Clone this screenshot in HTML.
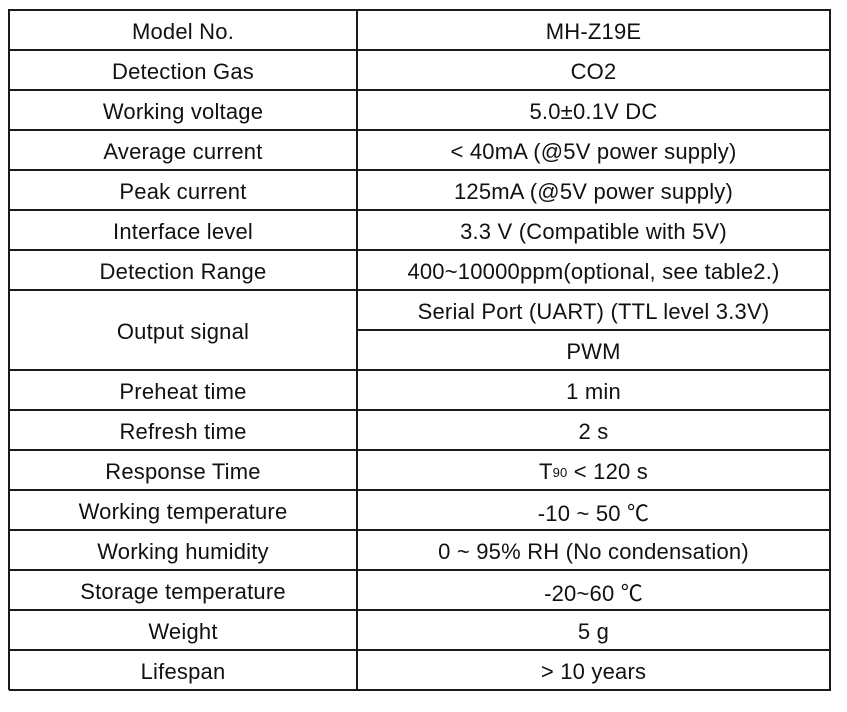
<!DOCTYPE html>
<html><head><meta charset="utf-8"><style>
body{margin:0;width:847px;height:712px;background:#fff;position:relative;overflow:hidden;font-family:"Liberation Sans","Noto Sans CJK KR",sans-serif;color:#111}
.c{position:absolute;display:flex;align-items:center;justify-content:center;font-size:22px;letter-spacing:0.2px;box-sizing:border-box;padding-top:4px}
.h{position:absolute;background:#1a1a1a}
sub{font-size:13px;vertical-align:-3px}
</style></head><body>
<div id="tbl"></div>
<script>
const labels=["Model No.","Detection Gas","Working voltage","Average current","Peak current","Interface level","Detection Range","Output signal",null,"Preheat time","Refresh time","Response Time","Working temperature","Working humidity","Storage temperature","Weight","Lifespan"];
const values=["MH-Z19E","CO2","5.0±0.1V DC","&lt; 40mA (@5V power supply)","125mA (@5V power supply)","3.3 V (Compatible with 5V)","400~10000ppm(optional, see table2.)","Serial Port (UART) (TTL level 3.3V)","PWM","1 min","2 s","T<sub>90</sub>&nbsp;&lt; 120 s","-10 ~ 50 ℃","0 ~ 95% RH (No condensation)","-20~60 ℃","5 g","&gt; 10 years"];
const L=9,R=830,T=10,B=690,M=357,n=labels.length,rh=(B-T)/n;
const t=document.getElementById('tbl');
function line(x,y,w,h,name){const d=document.createElement('div');d.className='h';


d.style.cssText=`left:${x}px;top:${y}px;width:${w}px;height:${h}px`;t.appendChild(d);}
for(let i=0;i<n;i++){
 const y=T+i*rh;
 if(labels[i]!==null){const c=document.createElement('div');c.className='c';
  
  
  const span=labels[i]==="Output signal"?2:1;
  c.style.cssText=`left:${L}px;top:${y}px;width:${M-L}px;height:${rh*span}px`;c.innerHTML=labels[i];t.appendChild(c);}
 const v=document.createElement('div');v.className='c';
 
 
 v.style.cssText=`left:${M}px;top:${y}px;width:${R-M}px;height:${rh}px`;v.innerHTML=values[i];t.appendChild(v);
 if(i>0){ if(labels[i]===null) line(M,y-1,R-M+1,2,'row-divider'); else line(L,y-1,R-L+1,2,'row-divider'); }
}
line(L,T-1,R-L+1,2,'table-top-border');
line(L,B-1,R-L+1,2,'table-bottom-border');
line(L-1,T-1,2,B-T+1,'table-left-border');
line(R-1,T-1,2,B-T+1,'table-right-border');
line(M-1,T-1,2,B-T+1,'column-divider');
</script>
</body></html>
